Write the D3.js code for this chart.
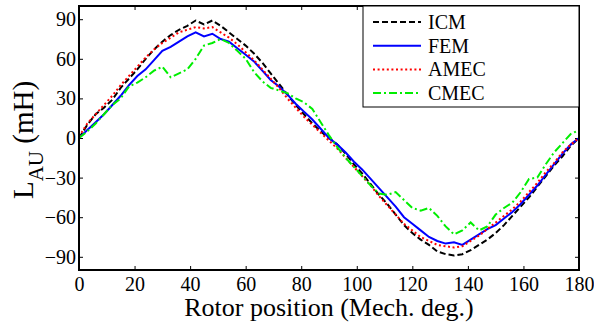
<!DOCTYPE html>
<html>
<head>
<meta charset="utf-8">
<script src="https://cdn.jsdelivr.net/npm/d3@7"></script>
<style>
  body { margin: 0; background: #fff; }
</style>
</head>
<body>
<div id="chart"></div>
<script>
// SVG area
var svgWidth = 594;
var svgHeight = 322;
var margin = {top: 6, right: 15, bottom: 52, left: 79};
var chartWidth = svgWidth - margin.left - margin.right;
var chartHeight = svgHeight - margin.top - margin.bottom;
var serif = 'Liberation Serif';

// rotor position samples (mech. deg.)
var angles = [0, 3, 6, 9, 12, 15, 18, 21, 24, 27, 30, 33, 36, 39, 42, 45, 48, 51, 54, 57,
  60, 63, 66, 69, 72, 75, 78, 81, 84, 87, 90, 93, 96, 99, 102, 105, 108, 111, 114, 117,
  120, 123, 126, 129, 132, 135, 138, 141, 144, 147, 150, 153, 156, 159, 162, 165, 168, 171, 174, 177, 180];

// inductance L_AU (mH)
var icm = [0, 10, 18, 23, 29, 38, 45, 52, 60, 67, 73, 78, 82, 85, 89, 86, 89, 85, 80, 75,
  70, 64, 57, 49, 41, 33, 25, 18, 11, 5, 0, -5, -12, -20, -27, -35, -43, -50, -58, -66,
  -72, -77, -81, -86, -88, -89, -88, -85, -81, -77, -72, -66, -59, -52, -45, -37, -29, -21, -14, -6, 0];
var fem = [0, 6, 12, 18, 25, 32, 40, 47, 52, 59, 66, 69, 73, 77, 80, 77, 79, 75, 73, 68,
  63, 58, 51, 44, 39, 33, 26, 20, 14, 7, 0, -5, -11, -18, -24, -31, -38, -45, -52, -60,
  -65, -70, -75, -78, -80, -79, -81, -77, -73, -69, -66, -61, -56, -50, -43, -36, -28, -20, -12, -5, 0];
var amec = [1, 11, 18, 25, 32, 40, 47, 54, 61, 67, 72, 76, 80, 82, 84, 83, 84, 80, 76, 71,
  65, 59, 52, 45, 38, 30, 23, 16, 10, 4, -2, -8, -15, -22, -29, -36, -44, -51, -58, -65,
  -70, -75, -78, -81, -82, -83, -82, -78, -74, -69, -64, -59, -54, -48, -41, -34, -26, -19, -11, -5, 0];
var cmec = [0, 5, 11, 18, 25, 30, 39, 42, 46, 51, 54, 46, 49, 52, 60, 70, 72, 75, 72, 66,
  60, 50, 43, 38, 36, 34, 30, 27, 22, 12, 2, -7, -15, -22, -29, -36, -42, -43, -41, -47,
  -53, -55, -53, -59, -67, -73, -70, -64, -70, -67, -58, -53, -49, -41, -31, -30, -20, -11, -4, 3, 6];

var seriesNames = ['ICM', 'FEM', 'AMEC', 'CMEC'];
var seriesValues = [icm, fem, amec, cmec];
var seriesColors = ['#000000', '#0000ff', '#ff0000', '#00ee00'];
var seriesDash = ['6,3', null, '2,2.6', '8,3,2,3'];

var xTicks = [0, 20, 40, 60, 80, 100, 120, 140, 160, 180];
var yTicks = [-90, -60, -30, 0, 30, 60, 90];

var svg = d3.select('#chart')
  .append('svg')
  .attr('width', svgWidth)
  .attr('height', svgHeight)
  .attr('font-family', serif);

var chartGroup = svg.append('g')
  .attr('transform', `translate(${margin.left}, ${margin.top})`);

var xScale = d3.scaleLinear().domain([0, 180]).range([0, chartWidth]);
var yScale = d3.scaleLinear().domain([-100, 100]).range([chartHeight, 0]);

// axes with inward ticks (MATLAB style)
function styleAxis(g) {
  g.attr('font-family', serif);
  g.select('.domain').remove();
  g.selectAll('.tick line').attr('stroke', '#000').attr('stroke-width', 1);
  g.selectAll('.tick text').attr('font-size', '20px').attr('font-family', serif).attr('fill', '#000');
}

chartGroup.append('g')
  .attr('transform', `translate(0, ${chartHeight})`)
  .call(d3.axisBottom(xScale).tickValues(xTicks).tickSize(-4).tickPadding(7))
  .call(styleAxis);

chartGroup.append('g')
  .call(d3.axisTop(xScale).tickValues(xTicks).tickSize(-4).tickFormat(''))
  .call(styleAxis);

chartGroup.append('g')
  .call(d3.axisLeft(yScale).tickValues(yTicks).tickSize(-4).tickPadding(3))
  .call(styleAxis);

chartGroup.append('g')
  .attr('transform', `translate(${chartWidth}, 0)`)
  .call(d3.axisRight(yScale).tickValues(yTicks).tickSize(-4).tickFormat(''))
  .call(styleAxis);

// curves
var line = d3.line()
  .x((d, i) => xScale(angles[i]))
  .y(d => yScale(d));

seriesValues.forEach((vals, k) => {
  chartGroup.append('path')
    .datum(vals)
    .attr('d', line)
    .attr('fill', 'none')
    .attr('stroke', seriesColors[k])
    .attr('stroke-width', 2)
    .attr('stroke-dasharray', seriesDash[k]);
});

// frame
chartGroup.append('rect')
  .attr('width', chartWidth)
  .attr('height', chartHeight)
  .attr('fill', 'none')
  .attr('stroke', '#000')
  .attr('stroke-width', 2);

// legend
var legend = chartGroup.append('g')
  .attr('transform', `translate(${chartWidth - 216}, 0)`);

legend.append('rect')
  .attr('width', 216)
  .attr('height', 101)
  .attr('fill', '#fff')
  .attr('stroke', '#000')
  .attr('stroke-width', 1);

seriesNames.forEach((name, k) => {
  var y = 16 + k * 23.7;
  legend.append('line')
    .attr('x1', 10).attr('x2', 58)
    .attr('y1', y).attr('y2', y)
    .attr('stroke', seriesColors[k])
    .attr('stroke-width', 2)
    .attr('stroke-dasharray', seriesDash[k]);
  legend.append('text')
    .attr('x', 65)
    .attr('y', y)
    .attr('dy', '0.35em')
    .attr('font-family', serif)
    .attr('font-size', '20px')
    .text(name);
});

// axis titles
svg.append('text')
  .attr('x', margin.left + chartWidth / 2)
  .attr('y', 316)
  .attr('text-anchor', 'middle')
  .attr('font-family', serif)
  .attr('font-size', '26px')
  .text('Rotor position (Mech. deg.)');

var ylab = svg.append('text')
  .attr('transform', `translate(33, 140) rotate(-90)`)
  .attr('text-anchor', 'middle')
  .attr('font-family', serif)
  .attr('font-size', '29px');
ylab.append('tspan').text('L');
ylab.append('tspan').attr('font-size', '21px').attr('dy', 10).text('AU');
ylab.append('tspan').attr('dy', -10).text(' (mH)');
</script>
</body>
</html>
